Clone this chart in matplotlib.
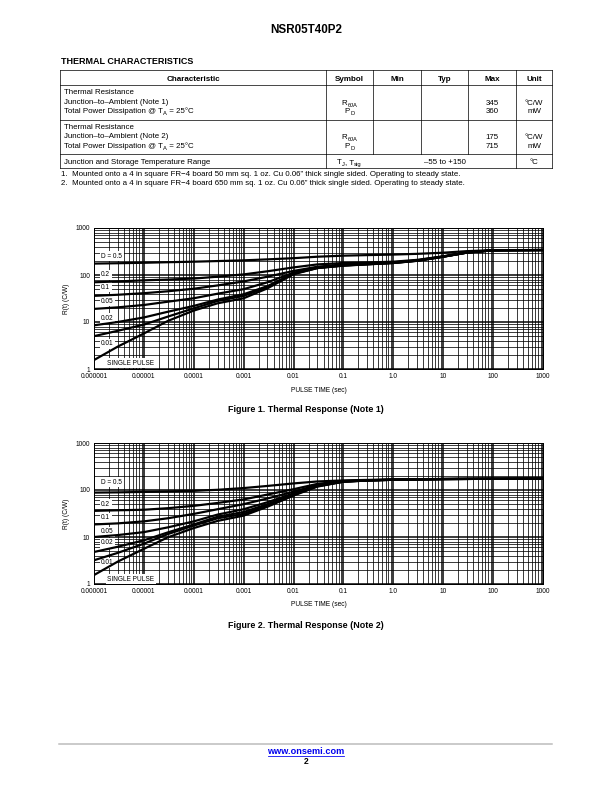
import numpy as np
import matplotlib
matplotlib.use("Agg")
import matplotlib.pyplot as plt
from matplotlib.ticker import LogLocator, FixedLocator, FixedFormatter, NullFormatter

plt.rcParams['font.family'] = ['Liberation Sans', 'DejaVu Sans']

# ---- table data ----
table_cols = ['Characteristic', 'Symbol', 'Min', 'Typ', 'Max', 'Unit']
row1_char = ['Thermal Resistance', 'Junction\u2013to\u2013Ambient (Note 1)']
row2_char = ['Thermal Resistance', 'Junction\u2013to\u2013Ambient (Note 2)']
power_line = [('Total Power Dissipation @ T', False), ('A', True), (' = 25\u00b0C', False)]
sym_rth = [('R', False), ('\u03b8JA', True)]
sym_pd = [('P', False), ('D', True)]
sym_tj = [('T', False), ('J', True), (', T', False), ('stg', True)]
row1_max = ['345', '360']
row2_max = ['175', '715']
row_units = ['\u00b0C/W', 'mW']
row3_char = 'Junction and Storage Temperature Range'
row3_range = '\u201355 to +150'
row3_unit = '\u00b0C'
notes = ['1.  Mounted onto a 4 in square FR\u22124 board 50 mm sq. 1 oz. Cu 0.06\u201d thick single sided. Operating to steady state.',
         '2.  Mounted onto a 4 in square FR\u22124 board 650 mm sq. 1 oz. Cu 0.06\u201d thick single sided. Operating to steady state.']

# ---- chart data ----
t = [1e-6, 3e-6, 1e-5, 3e-5, 1e-4, 3e-4, 1e-3, 3e-3, 1e-2, 3e-2, 1e-1, 3e-1, 1, 3, 10, 30, 100, 1000]
duty_labels = ['D = 0.5', '0.2', '0.1', '0.05', '0.02', '0.01', 'SINGLE PULSE']

# Figure 1 (Note 1)
r1_d05 = [175, 178, 182, 187, 192, 198, 205, 215, 228, 245, 258, 265, 272, 282, 298, 322, 338, 340]
r1_d02 = [70, 73, 77, 80, 84, 92, 103, 120, 145, 168, 180, 185, 192, 210, 250, 305, 336, 340]
r1_d01 = [36, 38, 41, 45, 51, 60, 73, 92, 122, 150, 168, 177, 186, 205, 248, 302, 335, 340]
r1_d005 = [19, 20.5, 23, 27, 32, 40, 50, 70, 112, 145, 163, 172, 183, 203, 246, 300, 335, 340]
r1_d002 = [8.5, 10, 12.5, 16.5, 22, 30, 39, 58, 108, 142, 160, 170, 181, 202, 245, 300, 335, 340]
r1_d001 = [5.0, 6.5, 8.8, 13, 19.5, 28, 36, 55, 106, 141, 159, 169, 180, 201, 245, 300, 335, 340]
r1_single = [1.55, 3.0, 5.7, 10.5, 17.5, 25, 32, 52, 104, 140, 158, 168, 180, 200, 245, 300, 335, 340]

# Figure 2 (Note 2)
r2_d05 = [88, 89, 91, 93, 96, 101, 110, 122, 138, 152, 160, 164, 167, 170, 172, 173, 174, 175]
r2_d02 = [36, 37, 38, 41, 46, 53, 63, 80, 104, 135, 155, 162, 166, 169, 171, 172, 173, 174]
r2_d01 = [18.5, 19.5, 21.5, 25, 31, 39, 50, 66, 92, 128, 153, 161, 166, 169, 171, 172, 173, 174]
r2_d005 = [10, 11, 12.7, 16, 21.5, 30, 39, 55, 85, 125, 152, 160, 165, 168, 171, 172, 173, 174]
r2_d002 = [4.8, 6.2, 8.5, 12.5, 18.5, 27, 34, 50, 81, 122, 151, 160, 165, 168, 171, 172, 173, 174]
r2_d001 = [3.2, 4.6, 7.2, 11.5, 17.5, 25, 31, 47, 79, 120, 150, 159, 165, 168, 171, 172, 173, 174]
r2_single = [1.55, 3.0, 5.6, 9.8, 15.5, 22, 28.5, 44, 76, 118, 150, 159, 165, 168, 171, 172, 173, 174]

x_ticks = [1e-6, 1e-5, 1e-4, 1e-3, 1e-2, 1e-1, 1, 10, 100, 1000]
x_tick_labels = ['0.000001', '0.00001', '0.0001', '0.001', '0.01', '0.1', '1.0', '10', '100', '1000']
y_ticks = [1, 10, 100, 1000]
y_tick_labels = ['1', '10', '100', '1000']

fig = plt.figure(figsize=(8.5, 11), dpi=72)
page = fig.add_axes([0, 0, 1, 1])
page.set_xlim(0, 612)
page.set_ylim(792, 0)
page.axis('off')
renderer = fig.canvas.get_renderer()


# text with subscripts, y is the baseline
def sub_text(x, y, pieces, fs, ha='left'):
    items = []
    total = 0
    for s, is_sub in pieces:
        if is_sub:
            tx = page.text(0, y + 2.0, s, ha='left', va='baseline', fontsize=fs * 0.72)
        else:
            tx = page.text(0, y, s, ha='left', va='baseline', fontsize=fs)
        w = tx.get_window_extent(renderer).width
        items.append((tx, w))
        total += w
    x0 = x - total / 2 if ha == 'center' else x
    for tx, w in items:
        tx.set_x(x0)
        x0 += w


# header
page.text(306, 30, 'NSR05T40P2', ha='center', va='center', fontsize=11.6, fontweight='bold')
page.text(61, 62, 'THERMAL CHARACTERISTICS', ha='left', va='center', fontsize=9, fontweight='bold')

# table grid
col_edges = [60, 326, 373, 421, 468, 516, 552]
row_edges = [70, 85, 120, 153.5, 168]
lw = 0.7
for y in row_edges:
    page.plot([col_edges[0], col_edges[-1]], [y, y], color='black', lw=lw)
for x in [col_edges[0], col_edges[-1]]:
    page.plot([x, x], [row_edges[0], row_edges[-1]], color='black', lw=lw)
for x in col_edges[1:-1]:
    page.plot([x, x], [row_edges[0], row_edges[3]], color='black', lw=lw)
page.plot([col_edges[1], col_edges[1]], [row_edges[3], row_edges[4]], color='black', lw=lw)
page.plot([col_edges[5], col_edges[5]], [row_edges[3], row_edges[4]], color='black', lw=lw)

fs = 7.9
sym_x = (col_edges[1] + col_edges[2]) / 2
max_x = (col_edges[4] + col_edges[5]) / 2
unit_x = (col_edges[5] + col_edges[6]) / 2
for i, name in enumerate(table_cols):
    cx = (col_edges[i] + col_edges[i + 1]) / 2
    page.text(cx, 80.7, name, ha='center', va='baseline', fontsize=8, fontweight='bold')

for chars, maxes, ys, ys2 in [(row1_char, row1_max, [93.8, 103.5, 113.1], [105.1, 113.3]),
                              (row2_char, row2_max, [128.8, 138.5, 148.0], [139.3, 147.6])]:
    for s, y in zip(chars, ys[:2]):
        page.text(64, y, s, ha='left', va='baseline', fontsize=fs)
    sub_text(64, ys[2], power_line, fs)
    sub_text(sym_x, ys2[0], sym_rth, fs, ha='center')
    sub_text(sym_x, ys2[1], sym_pd, fs, ha='center')
    for k in range(2):
        page.text(max_x, ys2[k], maxes[k], ha='center', va='baseline', fontsize=fs)
        page.text(unit_x, ys2[k], row_units[k], ha='center', va='baseline', fontsize=fs)

page.text(64, 163.6, row3_char, ha='left', va='baseline', fontsize=fs)
sub_text(sym_x, 163.6, sym_tj, fs, ha='center')
page.text((col_edges[2] + col_edges[5]) / 2, 163.6, row3_range, ha='center', va='baseline', fontsize=fs)
page.text(unit_x, 163.6, row3_unit, ha='center', va='baseline', fontsize=fs)

page.text(61, 176.3, notes[0], ha='left', va='baseline', fontsize=fs)
page.text(61, 185.3, notes[1], ha='left', va='baseline', fontsize=fs)

# footer
page.plot([59, 552], [744, 744], color='#bbbbbb', lw=1.5)
page.text(306, 752, 'www.onsemi.com', ha='center', va='center', fontsize=9.1, fontweight='bold',
          color='#0000ee')
page.plot([268, 344], [756.3, 756.3], color='#0000ee', lw=0.8)
page.text(306, 762, '2', ha='center', va='center', fontsize=8.5, fontweight='bold')


def draw_chart(rect, curves, label_y, caption, cap_y, xl_y, yl_x, ax_top):
    ax = fig.add_axes(rect)
    ax.set_xscale('log')
    ax.set_yscale('log')
    ax.set_xlim(1e-6, 1000)
    ax.set_ylim(1, 1000)
    ax.xaxis.set_major_locator(FixedLocator(x_ticks))
    ax.xaxis.set_major_formatter(FixedFormatter(x_tick_labels))
    ax.xaxis.set_minor_locator(LogLocator(base=10, subs=np.arange(2, 10), numticks=30))
    ax.xaxis.set_minor_formatter(NullFormatter())
    ax.yaxis.set_major_locator(FixedLocator(y_ticks))
    ax.yaxis.set_major_formatter(FixedFormatter(y_tick_labels))
    ax.yaxis.set_minor_locator(LogLocator(base=10, subs=np.arange(2, 10), numticks=30))
    ax.yaxis.set_minor_formatter(NullFormatter())
    ax.set_axisbelow(True)
    ax.grid(which='major', color='black', lw=1.5)
    ax.grid(which='minor', color='black', lw=0.75)
    ax.tick_params(which='both', length=0, labelsize=6.5, pad=4)
    for sp in ax.spines.values():
        sp.set_linewidth(1.0)
    for r in curves:
        ax.plot(t, r, color='black', lw=2.2, zorder=4, solid_capstyle='butt')
    for lab, fy in zip(duty_labels, label_y):
        fx = 0.03 if lab == 'SINGLE PULSE' else 0.016
        ax.text(fx, fy, lab, transform=ax.transAxes, ha='left', va='center', fontsize=6.5,
                zorder=3, bbox=dict(facecolor='white', edgecolor='none', pad=1.5))
    page.text(318.5, xl_y, 'PULSE TIME (sec)', ha='center', va='center', fontsize=6.6)
    page.text(yl_x, ax_top + 70.5, 'R(t) (C/W)', ha='center', va='center',
              fontsize=6.6, rotation=90)
    page.text(306, cap_y, caption, ha='center', va='center', fontsize=8.9, fontweight='bold')
    return ax


draw_chart([94 / 612, (792 - 369) / 792, 449 / 612, 141 / 792],
           [r1_d05, r1_d02, r1_d01, r1_d005, r1_d002, r1_d001, r1_single],
           [0.80, 0.667, 0.58, 0.48, 0.36, 0.18, 0.04],
           'Figure 1. Thermal Response (Note 1)', 409, 390, 67, 228)

draw_chart([94 / 612, (792 - 584) / 792, 449 / 612, 141 / 792],
           [r2_d05, r2_d02, r2_d01, r2_d005, r2_d002, r2_d001, r2_single],
           [0.72, 0.565, 0.47, 0.37, 0.293, 0.151, 0.035],
           'Figure 2. Thermal Response (Note 2)', 625, 605, 67, 443)

fig.savefig('out.png', dpi=72)
